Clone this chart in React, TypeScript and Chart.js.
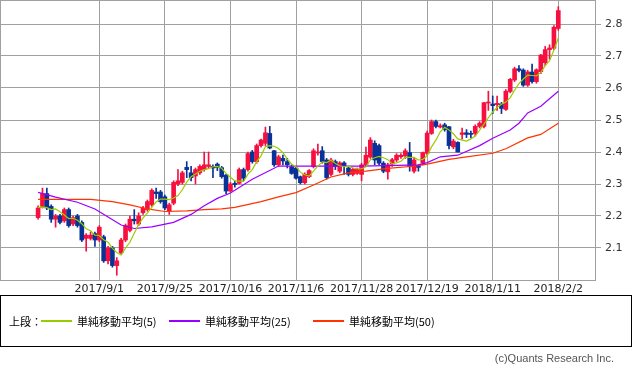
import React, { useEffect, useRef } from 'react';
import { Chart, registerables } from 'chart.js';
Chart.register(...registerables);

const dates = [
  '2017/8/14','2017/8/15','2017/8/16','2017/8/17','2017/8/18','2017/8/21','2017/8/22','2017/8/23','2017/8/24','2017/8/25',
  '2017/8/28','2017/8/29','2017/8/30','2017/8/31','2017/9/1','2017/9/5','2017/9/6','2017/9/7','2017/9/8','2017/9/11',
  '2017/9/12','2017/9/13','2017/9/14','2017/9/15','2017/9/18','2017/9/19','2017/9/20','2017/9/21','2017/9/22','2017/9/25',
  '2017/9/26','2017/9/27','2017/9/28','2017/9/29','2017/10/2','2017/10/3','2017/10/4','2017/10/5','2017/10/6','2017/10/9',
  '2017/10/10','2017/10/11','2017/10/12','2017/10/13','2017/10/16','2017/10/17','2017/10/18','2017/10/19','2017/10/20','2017/10/23',
  '2017/10/24','2017/10/25','2017/10/26','2017/10/27','2017/10/30','2017/10/31','2017/11/1','2017/11/2','2017/11/3','2017/11/6',
  '2017/11/7','2017/11/8','2017/11/9','2017/11/10','2017/11/13','2017/11/14','2017/11/15','2017/11/16','2017/11/17','2017/11/20',
  '2017/11/21','2017/11/22','2017/11/24','2017/11/27','2017/11/28','2017/11/29','2017/11/30','2017/12/1','2017/12/4','2017/12/5',
  '2017/12/6','2017/12/7','2017/12/8','2017/12/11','2017/12/12','2017/12/13','2017/12/14','2017/12/15','2017/12/18','2017/12/19',
  '2017/12/20','2017/12/21','2017/12/22','2017/12/26','2017/12/27','2017/12/28','2017/12/29','2018/1/2','2018/1/3','2018/1/4',
  '2018/1/5','2018/1/8','2018/1/9','2018/1/10','2018/1/11','2018/1/12','2018/1/16','2018/1/17','2018/1/18','2018/1/19',
  '2018/1/22','2018/1/23','2018/1/24','2018/1/25','2018/1/26','2018/1/29','2018/1/30','2018/1/31','2018/2/1','2018/2/2',
];

const opens = [
  2.195,2.23,2.27,2.23,2.19,2.20,2.185,2.22,2.175,2.20,
  2.18,2.13,2.13,2.145,2.125,2.135,2.06,2.10,2.045,2.085,
  2.125,2.155,2.19,2.175,2.21,2.22,2.235,2.275,2.275,2.26,
  2.215,2.24,2.30,2.305,2.352,2.335,2.325,2.335,2.345,2.355,
  2.355,2.362,2.351,2.328,2.278,2.302,2.302,2.345,2.345,2.40,
  2.37,2.42,2.427,2.458,2.404,2.36,2.38,2.37,2.354,2.35,
  2.323,2.304,2.323,2.354,2.397,2.404,2.375,2.33,2.37,2.34,
  2.366,2.35,2.33,2.333,2.33,2.36,2.384,2.427,2.42,2.365,
  2.338,2.362,2.375,2.385,2.3875,2.398,2.34,2.357,2.365,2.396,
  2.458,2.495,2.478,2.485,2.479,2.416,2.43,2.455,2.46,2.458,
  2.458,2.48,2.48,2.553,2.55,2.548,2.55,2.533,2.589,2.625,
  2.66,2.656,2.609,2.65,2.62,2.651,2.679,2.72,2.724,2.786,
];
const highs = [
  2.232,2.287,2.287,2.235,2.205,2.205,2.225,2.225,2.20,2.205,
  2.185,2.145,2.15,2.15,2.17,2.14,2.105,2.105,2.07,2.13,
  2.175,2.20,2.22,2.21,2.23,2.25,2.285,2.287,2.28,2.265,
  2.24,2.31,2.345,2.34,2.37,2.355,2.35,2.36,2.40,2.40,
  2.36,2.366,2.355,2.33,2.305,2.31,2.35,2.35,2.40,2.405,
  2.425,2.44,2.478,2.48,2.405,2.39,2.39,2.38,2.36,2.355,
  2.325,2.335,2.345,2.41,2.425,2.417,2.38,2.38,2.375,2.37,
  2.37,2.355,2.35,2.35,2.365,2.415,2.445,2.435,2.425,2.37,
  2.365,2.38,2.395,2.395,2.41,2.43,2.38,2.36,2.40,2.465,
  2.50,2.50,2.488,2.49,2.48,2.44,2.432,2.475,2.47,2.465,
  2.485,2.495,2.555,2.59,2.575,2.575,2.555,2.595,2.63,2.665,
  2.67,2.66,2.655,2.675,2.66,2.705,2.73,2.735,2.795,2.854,
];
const lows = [
  2.19,2.225,2.22,2.18,2.165,2.175,2.18,2.165,2.17,2.165,
  2.12,2.09,2.125,2.105,2.12,2.055,2.05,2.04,2.015,2.08,
  2.12,2.15,2.175,2.17,2.205,2.215,2.23,2.255,2.24,2.22,
  2.205,2.235,2.295,2.30,2.32,2.31,2.30,2.33,2.34,2.35,
  2.32,2.342,2.318,2.27,2.275,2.29,2.30,2.31,2.34,2.365,
  2.365,2.415,2.42,2.41,2.355,2.355,2.36,2.35,2.33,2.315,
  2.30,2.30,2.32,2.35,2.39,2.365,2.315,2.325,2.345,2.335,
  2.33,2.325,2.325,2.33,2.31,2.355,2.38,2.36,2.36,2.335,
  2.315,2.355,2.37,2.38,2.38,2.34,2.335,2.34,2.36,2.39,
  2.455,2.475,2.475,2.465,2.41,2.41,2.40,2.44,2.445,2.445,
  2.45,2.475,2.475,2.53,2.52,2.53,2.52,2.53,2.585,2.62,
  2.65,2.605,2.605,2.615,2.615,2.645,2.67,2.69,2.72,2.78,
];
const closes = [
  2.225,2.27,2.225,2.19,2.20,2.18,2.22,2.17,2.195,2.17,
  2.125,2.14,2.14,2.125,2.165,2.06,2.10,2.045,2.06,2.125,
  2.17,2.19,2.185,2.20,2.225,2.245,2.28,2.27,2.245,2.225,
  2.235,2.305,2.31,2.335,2.345,2.32,2.345,2.355,2.36,2.36,
  2.35,2.352,2.323,2.278,2.30,2.298,2.345,2.318,2.395,2.37,
  2.42,2.4375,2.46,2.4125,2.36,2.385,2.372,2.36,2.333,2.318,
  2.304,2.33,2.342,2.404,2.40,2.37,2.32,2.375,2.355,2.366,
  2.355,2.33,2.346,2.345,2.36,2.39,2.4375,2.375,2.365,2.34,
  2.36,2.376,2.39,2.39,2.404,2.354,2.375,2.352,2.398,2.459,
  2.495,2.48,2.482,2.47,2.42,2.434,2.40,2.46,2.455,2.455,
  2.48,2.49,2.554,2.556,2.545,2.552,2.536,2.59,2.627,2.66,
  2.655,2.609,2.65,2.62,2.657,2.703,2.72,2.725,2.79,2.842,
];

const ma5 = [
  2.227,2.228,2.226,2.22,2.222,2.213,2.203,2.192,2.193,2.187,
  2.176,2.16,2.154,2.14,2.139,2.126,2.118,2.099,2.086,2.078,
  2.10,2.118,2.146,2.174,2.194,2.209,2.227,2.244,2.253,2.253,
  2.251,2.256,2.264,2.282,2.306,2.323,2.331,2.34,2.345,2.348,
  2.354,2.355,2.349,2.333,2.321,2.31,2.309,2.308,2.331,2.345,
  2.37,2.388,2.417,2.42,2.418,2.411,2.398,2.378,2.362,2.354,
  2.337,2.329,2.325,2.34,2.356,2.369,2.367,2.374,2.364,2.357,
  2.354,2.356,2.35,2.348,2.347,2.354,2.376,2.382,2.386,2.382,
  2.376,2.363,2.366,2.371,2.384,2.383,2.383,2.375,2.377,2.388,
  2.416,2.437,2.463,2.477,2.469,2.457,2.441,2.437,2.434,2.441,
  2.45,2.468,2.487,2.507,2.525,2.539,2.549,2.556,2.57,2.593,
  2.614,2.628,2.64,2.639,2.638,2.648,2.67,2.685,2.719,2.756,
];

const ma25Idx = [0,4,9,13,16,19,22,26,31,35,38,41,44,49,55,65,74,82,87,89,92,96,101,104,108,110,112,115,119];
const ma25Val = [2.274,2.259,2.243,2.222,2.197,2.172,2.161,2.166,2.18,2.205,2.232,2.255,2.272,2.315,2.356,2.356,2.356,2.358,2.36,2.367,2.385,2.39,2.42,2.443,2.469,2.49,2.522,2.543,2.59];

const ma50Idx = [0,12,17,21,25,29,34,38,42,45,51,55,59,63,67,71,75,80,87,89,94,98,104,107,112,115,119];
const ma50Val = [2.252,2.252,2.245,2.235,2.222,2.214,2.216,2.22,2.222,2.227,2.245,2.26,2.273,2.297,2.322,2.335,2.34,2.349,2.357,2.362,2.377,2.385,2.396,2.41,2.444,2.455,2.49];

const tickLabels = ['2017/9/1','2017/9/25','2017/10/16','2017/11/6','2017/11/28','2017/12/19','2018/1/11','2018/2/2'];
const yTicks = [2.1, 2.2, 2.3, 2.4, 2.5, 2.6, 2.7, 2.8];

const legendItems = [
  { label: '単純移動平均(5)', color: '#99cc00' },
  { label: '単純移動平均(25)', color: '#9900ff' },
  { label: '単純移動平均(50)', color: '#ff3300' },
];

const RED = '#f5103f';
const BLUE = '#0a3296';
const GRID = '#a0a0a0';

export default function App() {
  const ref = useRef<HTMLCanvasElement>(null);
  useEffect(() => {
    document.body.style.margin = '0';
    const canvas = ref.current!;
    const colors = dates.map((_, i) => (closes[i] >= opens[i] ? RED : BLUE));
    const tickIdx = tickLabels.map((l) => dates.indexOf(l));
    const framePlugin = {
      id: 'frame',
      afterDatasetsDraw(chart: any) {
        const { ctx, chartArea } = chart;
        ctx.save();
        ctx.strokeStyle = GRID;
        ctx.lineWidth = 1;
        ctx.strokeRect(chartArea.left + 0.5, chartArea.top + 0.5, chartArea.right - chartArea.left, chartArea.bottom - chartArea.top);
        ctx.restore();
      },
    };
    const chart = new Chart(canvas, {
      type: 'bar',
      data: {
        datasets: [
          {
            type: 'line',
            data: ma5.map((v, i) => ({ x: i, y: v })),
            borderColor: legendItems[0].color,
            borderWidth: 1.2,
            pointRadius: 0,
            order: 0,
          } as any,
          {
            type: 'line',
            data: ma25Idx.map((x, k) => ({ x, y: ma25Val[k] })),
            borderColor: legendItems[1].color,
            borderWidth: 1.2,
            pointRadius: 0,
            order: 0,
          } as any,
          {
            type: 'line',
            data: ma50Idx.map((x, k) => ({ x, y: ma50Val[k] })),
            borderColor: legendItems[2].color,
            borderWidth: 1.2,
            pointRadius: 0,
            order: 0,
          } as any,
          {
            type: 'bar',
            data: dates.map((_, i) => ({ x: i, y: [opens[i], closes[i]] })),
            backgroundColor: colors,
            barThickness: 4,
            minBarLength: 1,
            grouped: false,
            order: 1,
          } as any,
          {
            type: 'bar',
            data: dates.map((_, i) => ({ x: i, y: [lows[i], highs[i]] })),
            backgroundColor: colors,
            barThickness: 1,
            grouped: false,
            order: 2,
          } as any,
        ],
      },
      options: {
        responsive: false,
        animation: false,
        layout: { padding: 0 },
        plugins: { legend: { display: false }, tooltip: { enabled: false } },
        scales: {
          x: {
            type: 'linear',
            min: -8.716,
            max: 127.396,
            offset: false,
            grid: { color: GRID, drawTicks: false, offset: false },
            border: { display: false },
            afterBuildTicks: (scale: any) => {
              scale.ticks = tickIdx.map((v) => ({ value: v }));
            },
            afterFit: (scale: any) => {
              scale.height = 16;
              scale.paddingLeft = 0;
              scale.paddingRight = 0;
            },
            ticks: {
              autoSkip: false,
              maxRotation: 0,
              padding: 3,
              color: '#222',
              font: { family: 'DejaVu Sans', size: 11 },
              callback: (v: any) => dates[Math.round(Number(v))],
            },
          },
          y: {
            type: 'linear',
            position: 'right',
            min: 2.0,
            max: 2.875,
            grid: { color: GRID, drawTicks: true, tickLength: 6 },
            border: { display: false },
            afterBuildTicks: (scale: any) => {
              scale.ticks = yTicks.map((v) => ({ value: v }));
            },
            afterFit: (scale: any) => {
              scale.width = 38;
              scale.paddingTop = 0;
              scale.paddingBottom = 0;
            },
            ticks: {
              padding: 4,
              color: '#333',
              font: { family: 'DejaVu Sans', size: 11 },
              callback: (v: any) => Number(v).toFixed(1),
            },
          },
        },
      } as any,
      plugins: [framePlugin],
    });
    return () => chart.destroy();
  }, []);

  const cjk = '"Noto Sans CJK JP", "Noto Sans", sans-serif';
  const itemPos = [
    { line: 40, text: 76 },
    { line: 168, text: 204 },
    { line: 312, text: 348 },
  ];
  return (
    <div style={{ position: 'relative', width: 633, height: 370, background: '#fff', overflow: 'hidden' }}>
      <canvas ref={ref} width={633} height={296} style={{ position: 'absolute', left: 0, top: 0 }} />
      <div
        style={{
          position: 'absolute',
          left: 0,
          top: 295,
          width: 630,
          height: 50,
          border: '1px solid #000',
          boxSizing: 'content-box',
        }}
      >
        <span style={{ position: 'absolute', left: 8, top: 17, fontFamily: cjk, fontSize: 11, lineHeight: '16px', color: '#000' }}>
          上段：
        </span>
        {legendItems.map((it, k) => (
          <React.Fragment key={k}>
            <div
              style={{
                position: 'absolute',
                left: itemPos[k].line,
                top: 24,
                width: 31,
                height: 2,
                backgroundColor: it.color,
              }}
            />
            <span
              style={{
                position: 'absolute',
                left: itemPos[k].text,
                top: 17,
                fontFamily: cjk,
                fontSize: 11,
                lineHeight: '16px',
                color: '#000',
                whiteSpace: 'nowrap',
              }}
            >
              {it.label}
            </span>
          </React.Fragment>
        ))}
      </div>
      <div
        style={{
          position: 'absolute',
          right: 19,
          top: 351,
          fontFamily: '"Liberation Sans", sans-serif',
          fontSize: 11,
          lineHeight: '14px',
          color: '#555',
          whiteSpace: 'nowrap',
        }}
      >
        (c)Quants Research Inc.
      </div>
    </div>
  );
}
